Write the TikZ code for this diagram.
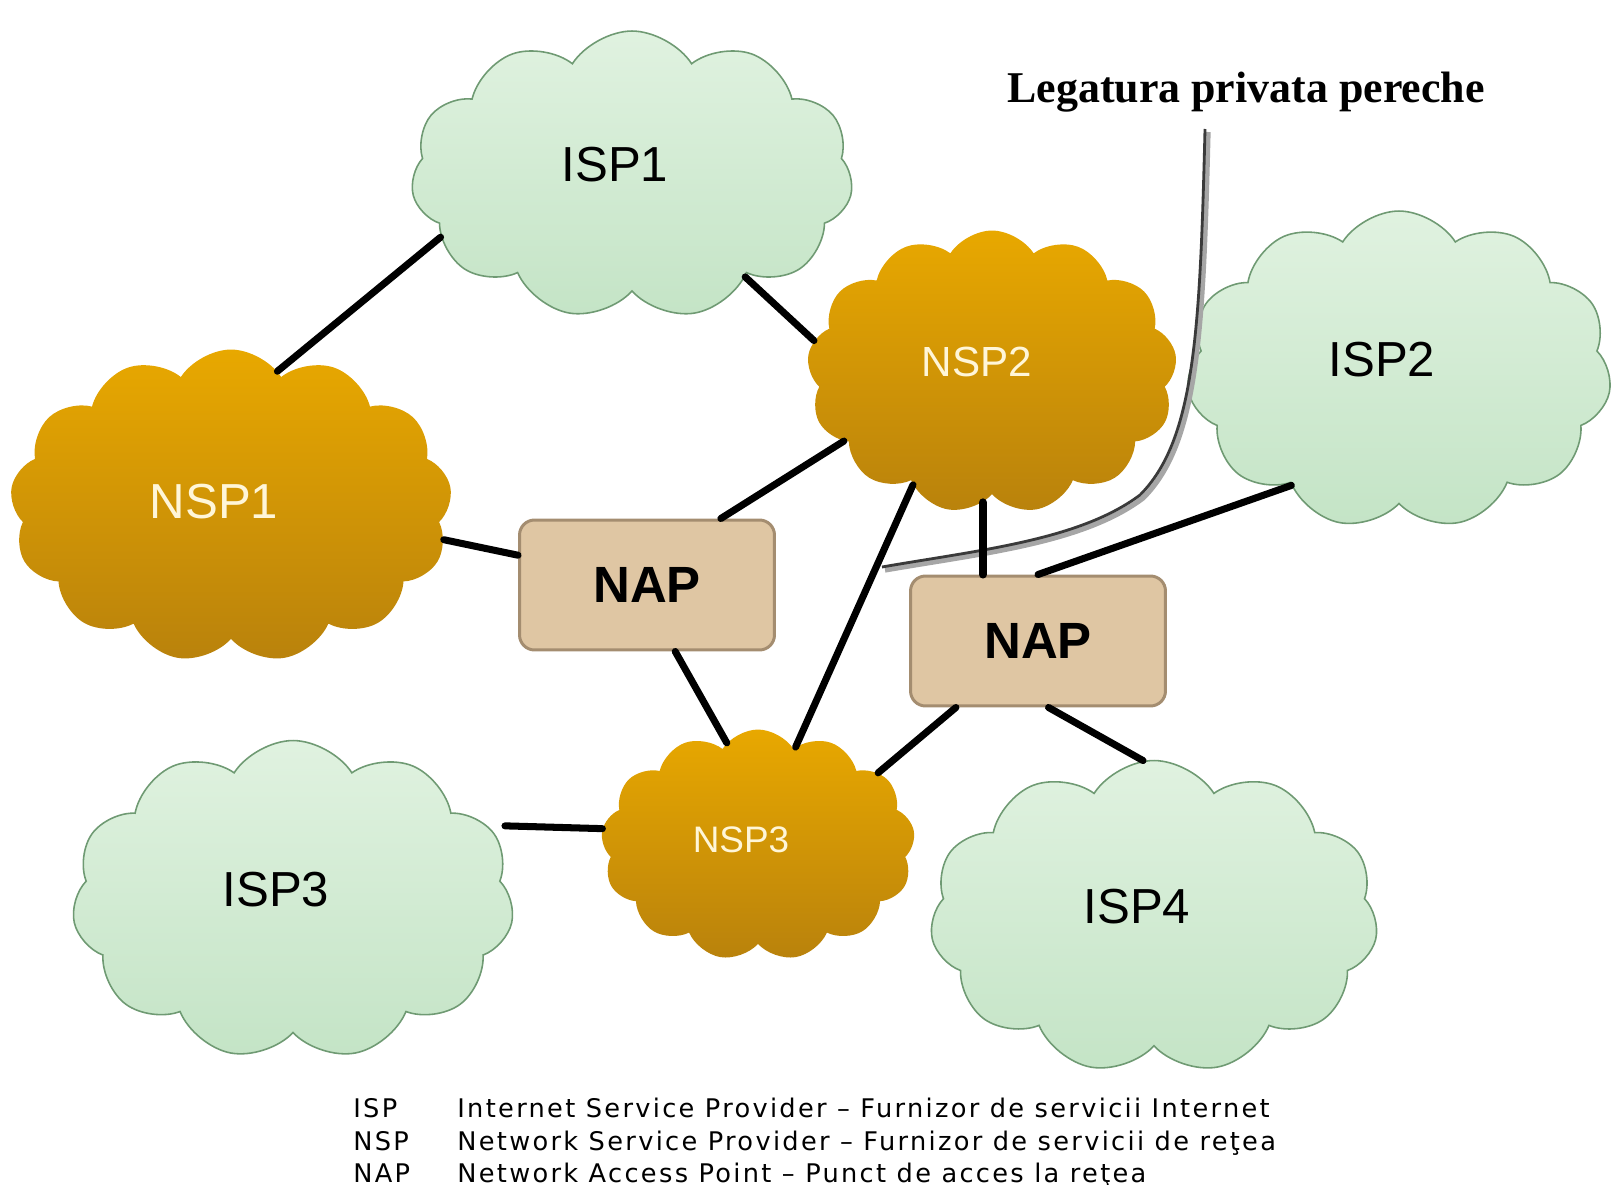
\documentclass[tikz,border=0pt]{standalone}
\usepackage{fontspec}
\setmainfont{Liberation Sans}
\newfontfamily\titlefont{Liberation Serif}
\newfontfamily\legendfont[LetterSpace=9]{DejaVu Sans}
\usetikzlibrary{shapes.symbols}

\definecolor{isptop}{HTML}{E0F2E0}
\definecolor{ispbot}{HTML}{C4E4C6}
\definecolor{ispline}{HTML}{6F9A73}
\definecolor{nsptop}{HTML}{E8A800}
\definecolor{nspbot}{HTML}{B9820C}
\definecolor{nsptext}{HTML}{FFF6D8}
\definecolor{napfill}{HTML}{DFC6A3}
\definecolor{napline}{HTML}{A48D70}
\definecolor{peergray}{HTML}{3A3A3A}

\tikzset{
  cloudtext/.style={xshift=-0.34cm, yshift=0.2cm, inner sep=0pt},
  ispcloud/.style={cloud, cloud puffs=11, cloud puff arc=115, cloud ignores aspect,
    draw=ispline, line width=0.9pt, top color=isptop, bottom color=ispbot, inner sep=0pt,
    label={[cloudtext, font=\fontsize{28}{30}\selectfont]center:#1}},
  nspcloud/.style={cloud, cloud puffs=13, cloud puff arc=115, cloud ignores aspect,
    top color=nsptop, bottom color=nspbot, inner sep=0pt},
  napbox/.style={rectangle, rounded corners=0.3cm, draw=napline, line width=0.06cm,
    fill=napfill, minimum width=5.1cm, minimum height=2.6cm,
    font=\bfseries\fontsize{29}{30}\selectfont},
  link/.style={line width=4pt, line cap=round},
  peerline/.style={line width=1.6pt, peergray},
  peershadow/.style={line width=3pt, black!35, transform canvas={shift={(3,3)}}},
  legend/.style={anchor=base west, inner sep=0pt, font=\legendfont\fontsize{14.6}{15}\selectfont},
}

\begin{document}
\begin{tikzpicture}[x=0.02cm, y=-0.02cm]
\useasboundingbox (0,0) rectangle (1612,1185);

\node[ispcloud=ISP1, minimum width=8.84cm, minimum height=5.76cm] (isp1) at (632,175) {};
\node[nspcloud, minimum width=8.84cm, minimum height=6.26cm,
  label={[cloudtext, yshift=-0.12cm, text=nsptext, font=\fontsize{28}{30}\selectfont]center:NSP1}] (nsp1) at (231,506) {};
\node[nspcloud, minimum width=7.4cm, minimum height=5.66cm,
  label={[cloudtext, xshift=0.04cm, text=nsptext, font=\fontsize{24}{26}\selectfont]center:NSP2}] (nsp2) at (992,372) {};
\node[ispcloud=ISP2, minimum width=8.5cm, minimum height=6.36cm] (isp2) at (1399,370) {};
\node[nspcloud, minimum width=6.28cm, minimum height=4.62cm,
  label={[cloudtext, yshift=-0.1cm, text=nsptext, font=\fontsize{21}{23}\selectfont]center:NSP3}] (nsp3) at (758,845) {};
\node[ispcloud=ISP3, minimum width=8.84cm, minimum height=6.38cm] (isp3) at (293,900) {};
\node[ispcloud=ISP4, minimum width=8.96cm, minimum height=6.26cm] (isp4) at (1154,917) {};

\node[napbox] (nap1) at (647,585) {NAP};
\node[napbox] (nap2) at (1038,641) {NAP};

\node[anchor=base, font=\titlefont\bfseries\fontsize{25}{27}\selectfont] (peering) at (1246,103) {Legatura privata pereche};
\coordinate (peer-top) at (1205,129);
\coordinate (peer-end) at (882,567);
\draw[peershadow] (peer-top) .. controls (1200,330) and (1195,440) .. (1140,495) .. controls (1080,540) and (980,550) .. (peer-end);
\draw[peerline] (peer-top) .. controls (1200,330) and (1195,440) .. (1140,495) .. controls (1080,540) and (980,550) .. (peer-end);

\draw[link] (isp1.198) -- (nsp1.71);
\draw[link] (isp1.318) -- (nsp2.170);
\draw[link] (nsp1.351) -- (nap1.167);
\draw[link] (nsp2.205) -- (nap1.42);
\draw[link] (nap1.293) -- (nsp3.107);
\draw[link] (nsp2.235) -- (nsp3.69);
\draw[link, line width=4.6pt] (nsp2.266) -- (nsp2.266 |- nap2.north);
\draw[link] (isp2.227) -- (nap2.north);
\draw[link] (nap2.219) -- (nsp3.31);
\draw[link] (nap2.279) -- (isp4.94);
\draw[link, shorten <=0.35cm] (isp3.21) -- (nsp3.174);

\node[legend] (isp-abbr) at (353,1117) {ISP};
\node[legend] (isp-text) at (457,1117) {Internet Service Provider – Furnizor de servicii Internet};
\node[legend] (nsp-abbr) at (353,1150) {NSP};
\node[legend] (nsp-text) at (457,1150) {Network Service Provider – Furnizor de servicii de reţea};
\node[legend] (nap-abbr) at (353,1182) {NAP};
\node[legend] (nap-text) at (457,1182) {Network Access Point – Punct de acces la reţea};
\end{tikzpicture}
\end{document}
